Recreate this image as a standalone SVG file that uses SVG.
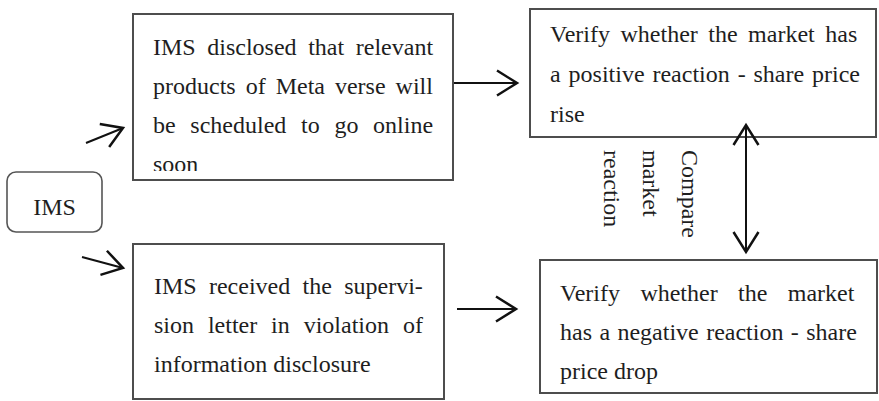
<svg xmlns="http://www.w3.org/2000/svg" width="879" height="401" viewBox="0 0 879 401">
<style>
.box{fill:#fff;stroke:#4d4d4d;stroke-width:2}
.ims{fill:#fff;stroke:#555;stroke-width:1.6}
text{font-family:"Liberation Serif","Times New Roman",serif;font-size:24px;fill:#1e1e1e}
.con{fill:none;stroke:#111;stroke-width:2}
</style>
<defs>
<marker id="ah" markerUnits="userSpaceOnUse" markerWidth="30" markerHeight="30" viewBox="-20 -12 22 24" refX="0" refY="0" orient="auto-start-reverse">
<path d="M-16,-10 L0,0 L-16,10" fill="none" stroke="#111" stroke-width="2"/>
</marker>
<clipPath id="c1"><rect x="134" y="15" width="318" height="156"/></clipPath>
</defs>
<rect width="879" height="401" fill="#fff"/>
<g id="ims">
<rect class="ims" x="7" y="172" width="95" height="60" rx="9"/>
<text x="54.5" y="215" text-anchor="middle">IMS</text>
</g>
<g id="disclosed">
<rect class="box" x="133" y="14" width="320" height="166"/>
<g clip-path="url(#c1)">
<text x="153" y="55" word-spacing="5.6">IMS disclosed that relevant</text>
<text x="153" y="94" word-spacing="4">products of Meta verse will</text>
<text x="153" y="133" word-spacing="8.7">be scheduled to go online</text>
<text x="153" y="172">soon</text>
</g>
</g>
<g id="positive">
<rect class="box" x="530" y="9" width="346" height="128"/>
<text x="550" y="42" word-spacing="4.5">Verify whether the market has</text>
<text x="550" y="82" word-spacing="1.9">a positive reaction - share price</text>
<text x="550" y="122">rise</text>
</g>
<g id="supervision">
<rect class="box" x="133" y="244" width="311" height="155"/>
<text x="154" y="294" word-spacing="6.3">IMS received the supervi-</text>
<text x="154" y="333" word-spacing="7.9">sion letter in violation of</text>
<text x="154" y="372">information disclosure</text>
</g>
<g id="negative">
<rect class="box" x="540" y="260" width="337" height="133"/>
<text x="560" y="301" word-spacing="14.4">Verify whether the market</text>
<text x="560" y="340" word-spacing="1.4">has a negative reaction - share</text>
<text x="560" y="379">price drop</text>
</g>
<g id="compare-label">
<text transform="translate(682,150) rotate(90)"><tspan x="0" y="0">Compare</tspan><tspan x="0" y="39">market</tspan><tspan x="0" y="78">reaction</tspan></text>
</g>
<g id="connectors">
<line class="con" x1="86" y1="143" x2="123" y2="128" marker-end="url(#ah)"/>
<line class="con" x1="82" y1="257" x2="123" y2="268" marker-end="url(#ah)"/>
<line class="con" x1="454" y1="83" x2="517" y2="83" marker-end="url(#ah)"/>
<line class="con" x1="457" y1="309" x2="516" y2="309" marker-end="url(#ah)"/>
<line class="con" x1="746" y1="125" x2="746" y2="252" marker-start="url(#ah)" marker-end="url(#ah)"/>
</g>
</svg>
